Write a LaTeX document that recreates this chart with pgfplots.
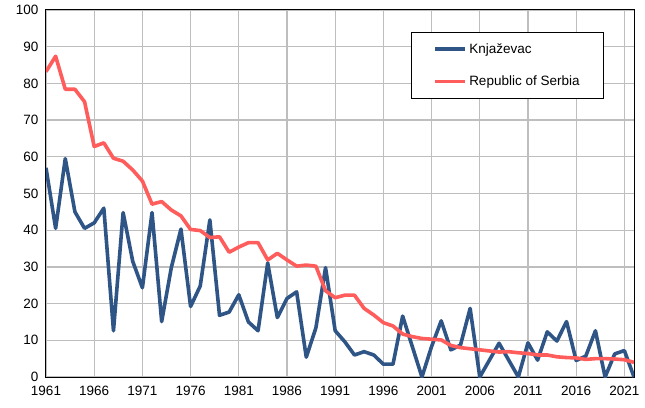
\documentclass[border=0pt]{standalone}
\usepackage{pgfplots}
\pgfplotsset{compat=1.18}
\usepackage{fontspec}
\setmainfont{Liberation Sans}
\definecolor{kblue}{RGB}{47,85,135}
\definecolor{sred}{RGB}{255,92,92}
\definecolor{gridgray}{RGB}{190,190,190}
\begin{document}
\begin{tikzpicture}
\begin{axis}[
  at={(0pt,0pt)}, anchor=south west,
  scale only axis, width=588pt, height=367pt,
  xmin=1961, xmax=2022, ymin=0, ymax=100,
  xtick={1961,1966,...,2021}, ytick={0,10,...,100},
  grid=major, major grid style={gridgray, line width=1.3pt},
  major tick length=0pt,
  axis line style={black, line width=1pt},
  tick label style={font=\fontsize{13.5}{16}\selectfont},
  /pgf/number format/assume math mode=true,
  /pgf/number format/1000 sep={},
  xticklabel style={yshift=-6pt},
  yticklabel style={xshift=-4pt},
  legend style={at={(0.621,0.940)}, anchor=north west, draw=black, line width=1pt,
    font=\fontsize{13.5}{16}\selectfont, inner xsep=22pt, inner ysep=9pt,
    row sep=17pt, cells={anchor=west}},
  legend image code/.code={\draw[#1] (0pt,0pt) -- (30pt,0pt);},
]
\addplot[kblue, line width=3.6pt, line join=round] coordinates {
(1961,57)(1962,40.5)(1963,59.5)(1964,45)(1965,40.5)(1966,42)(1967,46)(1968,12.6)(1969,44.8)(1970,31.5)
(1971,24.3)(1972,44.8)(1973,15.1)(1974,29.8)(1975,40.3)(1976,19.2)(1977,24.8)(1978,42.8)(1979,16.8)(1980,17.7)
(1981,22.4)(1982,15)(1983,12.6)(1984,31.1)(1985,16.2)(1986,21.4)(1987,23.2)(1988,5.4)(1989,13.4)(1990,29.8)
(1991,12.6)(1992,9.6)(1993,6)(1994,6.9)(1995,6)(1996,3.5)(1997,3.5)(1998,16.6)(1999,8.3)(2000,0)
(2001,8.3)(2002,15.3)(2003,7.4)(2004,8.7)(2005,18.7)(2006,0)(2007,4.6)(2008,9.2)(2009,4.6)(2010,0)
(2011,9.3)(2012,4.6)(2013,12.3)(2014,9.8)(2015,15.1)(2016,4.5)(2017,5.7)(2018,12.6)(2019,0)(2020,6.3)
(2021,7.2)(2022,0)
};
\addlegendentry{Knjaževac}
\addplot[sred, line width=3.6pt, line join=round] coordinates {
(1961,83.2)(1962,87.4)(1963,78.4)(1964,78.4)(1965,75)(1966,62.8)(1967,63.8)(1968,59.6)(1969,58.8)(1970,56.4)
(1971,53.4)(1972,47.1)(1973,47.8)(1974,45.5)(1975,43.9)(1976,40.2)(1977,39.9)(1978,38)(1979,38.2)(1980,34)
(1981,35.4)(1982,36.6)(1983,36.6)(1984,31.9)(1985,33.7)(1986,31.9)(1987,30.2)(1988,30.5)(1989,30.2)(1990,23.5)
(1991,21.6)(1992,22.3)(1993,22.3)(1994,18.7)(1995,16.9)(1996,14.8)(1997,13.9)(1998,11.7)(1999,11)(2000,10.5)
(2001,10.3)(2002,10.1)(2003,8.6)(2004,8)(2005,7.7)(2006,7.4)(2007,7.1)(2008,6.8)(2009,6.9)(2010,6.6)
(2011,6.4)(2012,6)(2013,6)(2014,5.5)(2015,5.3)(2016,5.2)(2017,4.8)(2018,5)(2019,5)(2020,4.9)
(2021,4.7)(2022,4)
};
\addlegendentry{Republic of Serbia}
\end{axis}
\path (-46pt,-30pt) rectangle (599pt,377pt);
\end{tikzpicture}
\end{document}
